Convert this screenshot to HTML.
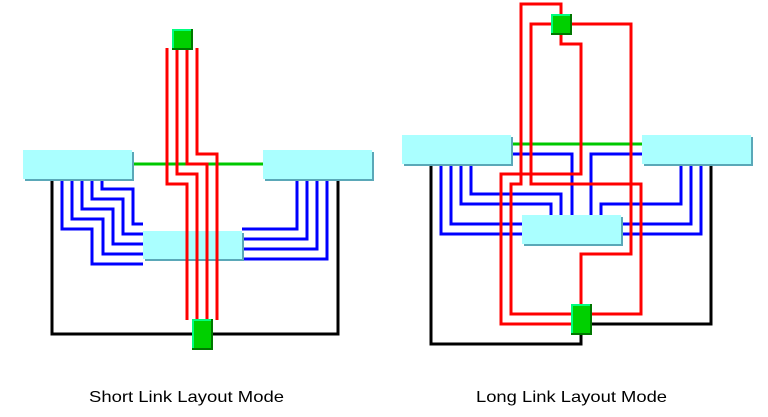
<!DOCTYPE html>
<html><head><meta charset="utf-8"><style>
html,body{margin:0;padding:0;background:#fff;width:768px;height:417px;overflow:hidden}
svg{display:block}
text{font-family:"Liberation Sans",sans-serif;font-size:16px;fill:#000}
</style></head><body>
<svg width="768" height="417" viewBox="0 0 768 417" xmlns="http://www.w3.org/2000/svg">
<g fill="none" stroke-width="3" stroke-linejoin="miter" stroke-linecap="butt">
<g stroke="#000"><polyline points="52,179 52,334 338,334 338,179"/></g>
<g stroke="#0000ff">
<polyline points="102,179 102,189 133,189 133,224 143,224"/>
<polyline points="92,179 92,199 123,199 123,234 143,234"/>
<polyline points="82,179 82,209 113,209 113,244 143,244"/>
<polyline points="72,179 72,219 103,219 103,254 143,254"/>
<polyline points="62,179 62,229 92,229 92,264 143,264"/>
<polyline points="297,179 297,229 242,229"/>
<polyline points="307,179 307,239 242,239"/>
<polyline points="317,179 317,249 242,249"/>
<polyline points="327,179 327,259 242,259"/>
</g>
<g stroke="#00c800"><line x1="132" y1="164" x2="263" y2="164"/></g>
<g stroke="#000">
<polyline points="431,164 431,344 581,344 581,334"/>
<polyline points="711,164 711,324 591,324"/>
</g>
<g stroke="#0000ff">
<polyline points="511,154 572,154 572,215"/>
<polyline points="642,154 591,154 591,215"/>
<polyline points="471,164 471,194 561,194 561,215"/>
<polyline points="461,164 461,204 551,204 551,215"/>
<polyline points="451,164 451,224 522,224"/>
<polyline points="441,164 441,234 522,234"/>
<polyline points="681,164 681,204 601,204 601,215"/>
<polyline points="691,164 691,224 621,224"/>
<polyline points="701,164 701,234 621,234"/>
</g>
<g stroke="#00c800"><line x1="511" y1="144" x2="642" y2="144"/></g>
<g stroke="#ff0000">
<polyline points="561,14 561,4 521,4 521,184 511,184 511,314 572,314"/>
<polyline points="552,24 531,24 531,184 641,184 641,314 591,314"/>
<polyline points="571,24 631,24 631,254 581,254 581,304"/>
<polyline points="561,34 561,44 581,44 581,174 501,174 501,324 572,324"/>
</g>
</g>
<g>
<rect x="25" y="152" width="109" height="29" fill="#5aa8b8"/><rect x="23" y="150" width="109" height="29" fill="#aaffff"/>
<rect x="265" y="152" width="109" height="29" fill="#5aa8b8"/><rect x="263" y="150" width="109" height="29" fill="#aaffff"/>
<rect x="145" y="233" width="99" height="28" fill="#5aa8b8"/><rect x="143" y="231" width="99" height="28" fill="#aaffff"/>
<rect x="404" y="137" width="109" height="29" fill="#5aa8b8"/><rect x="402" y="135" width="109" height="29" fill="#aaffff"/>
<rect x="644" y="137" width="109" height="29" fill="#5aa8b8"/><rect x="642" y="135" width="109" height="29" fill="#aaffff"/>
<rect x="524" y="217" width="99" height="29" fill="#5aa8b8"/><rect x="522" y="215" width="99" height="29" fill="#aaffff"/>
</g>
<g fill="none" stroke-width="3" stroke="#ff0000">
<polyline points="167,48 167,184 187,184 187,320"/>
<polyline points="177,48 177,174 197,174 197,320"/>
<polyline points="187,48 187,164 207,164 207,320"/>
<polyline points="197,48 197,154 217,154 217,320"/>
</g>
<g>
<rect x="172" y="29" width="21" height="21" fill="#007800"/><rect x="172" y="29" width="19" height="19" fill="#00ff80"/><rect x="174" y="31" width="17" height="17" fill="#00d000"/>
<rect x="192" y="319" width="21" height="31" fill="#007800"/><rect x="192" y="319" width="19" height="29" fill="#00ff80"/><rect x="194" y="321" width="17" height="27" fill="#00d000"/>
<rect x="551" y="14" width="21" height="21" fill="#007800"/><rect x="551" y="14" width="19" height="19" fill="#00ff80"/><rect x="553" y="16" width="17" height="17" fill="#00d000"/>
<rect x="571" y="304" width="21" height="31" fill="#007800"/><rect x="571" y="304" width="19" height="29" fill="#00ff80"/><rect x="573" y="306" width="17" height="27" fill="#00d000"/>
</g>
<text x="186.5" y="402" text-anchor="middle" textLength="195" lengthAdjust="spacingAndGlyphs">Short Link Layout Mode</text>
<text x="571.5" y="402" text-anchor="middle" textLength="191" lengthAdjust="spacingAndGlyphs">Long Link Layout Mode</text>
</svg>
</body></html>
